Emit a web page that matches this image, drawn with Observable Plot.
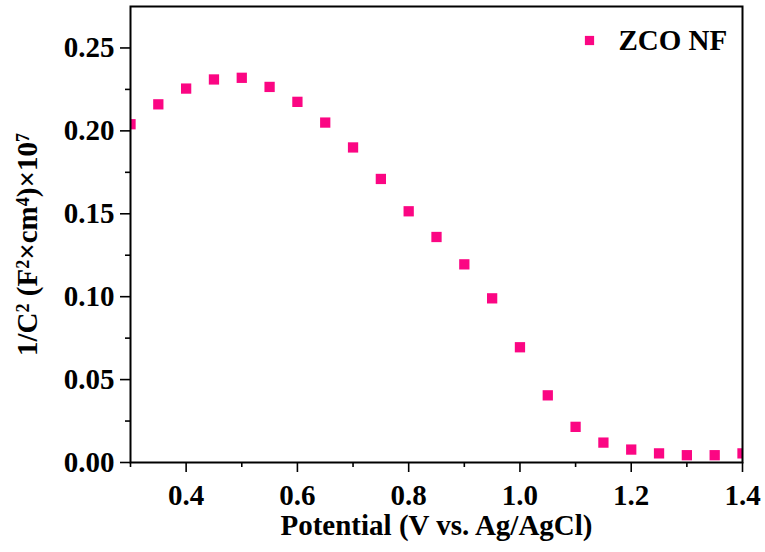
<!DOCTYPE html>
<html>
<head>
<meta charset="utf-8">
<script src="https://cdn.jsdelivr.net/npm/d3@7"></script>
<script src="https://cdn.jsdelivr.net/npm/@observablehq/plot@0.6"></script>
<style>
  html, body { margin: 0; padding: 0; background: #fff; }
  #chart svg { display: block; }
</style>
</head>
<body>
<div id="chart"></div>
<script>
// Mott–Schottky data for the ZCO NF electrode
const potential = [0.30, 0.35, 0.40, 0.45, 0.50, 0.55, 0.60, 0.65, 0.70, 0.75, 0.80, 0.85,
                   0.90, 0.95, 1.00, 1.05, 1.10, 1.15, 1.20, 1.25, 1.30, 1.35, 1.40];
const invC2 = [0.204, 0.216, 0.2255, 0.231, 0.232, 0.2265, 0.2175, 0.205, 0.190, 0.171, 0.1515, 0.136,
               0.1195, 0.099, 0.0695, 0.0405, 0.0215, 0.012, 0.0078, 0.0055, 0.0044, 0.0044, 0.0055];
const seriesName = "ZCO NF";

const xMajor = [0.4, 0.6, 0.8, 1.0, 1.2, 1.4];
const xMinor = [0.3, 0.5, 0.7, 0.9, 1.1, 1.3];
const yMajor = [0.00, 0.05, 0.10, 0.15, 0.20, 0.25];
const yMinor = [0.025, 0.075, 0.125, 0.175, 0.225];

const data = potential.map((v, i) => ({potential: v, value: invC2[i]}));
const pink = "#fb0683";
const serifFont = "Liberation Serif";

const chart = Plot.plot({
  width: 765,
  height: 552,
  marginLeft: 130,
  marginRight: 23,
  marginTop: 6,
  marginBottom: 90,
  style: {background: "#fff", color: "#000"},
  x: {domain: [0.3, 1.4]},
  y: {domain: [0, 0.275]},
  marks: [
    Plot.dot(data, {x: "potential", y: "value", symbol: "square", r: 5.8, fill: pink, stroke: "none", clip: true}),
    Plot.axisX({ticks: xMinor, tickSize: 5, strokeWidth: 1.6, text: null, label: null}),
    Plot.axisX({ticks: xMajor, tickSize: 10, strokeWidth: 1.6, tickPadding: 12, tickFormat: d3.format(".1f"),
                fontSize: 29, fontWeight: "bold", fontFamily: serifFont,
                label: "Potential (V vs. Ag/AgCl)", labelAnchor: "center", labelArrow: "none", labelOffset: 72}),
    Plot.axisY({ticks: yMinor, tickSize: 5, strokeWidth: 1.6, text: null, label: null}),
    Plot.axisY({ticks: yMajor, tickSize: 10, strokeWidth: 1.6, tickPadding: 6, tickFormat: d3.format(".2f"),
                fontSize: 29, fontWeight: "bold", fontFamily: serifFont,
                label: "1/C2 (F2×cm4)×107", labelAnchor: "center", labelArrow: "none", labelOffset: 114}),
    Plot.frame({stroke: "#000", strokeWidth: 2}),
    // legend
    Plot.dot([seriesName], {frameAnchor: "top-right", dx: -153, dy: 34, symbol: "square", r: 5.2, fill: pink}),
    Plot.text([seriesName], {frameAnchor: "top-right", dx: -124, dy: 34, text: d => d, textAnchor: "start",
                             lineAnchor: "middle", fontSize: 29, fontWeight: "bold", fontFamily: serifFont, fill: "#000"})
  ]
});

// Serif bold type everywhere, and superscripts on the y-axis title
const svg = d3.select(chart);
svg.selectAll("[aria-label='x-axis label'] text, [aria-label='y-axis label'] text").attr("font-size", 29);
const yLabel = svg.select("[aria-label='y-axis label'] text");
yLabel.text(null).attr("dx", -10);
const parts = [["1/C", false], ["2", true], [" (F", false], ["2", true], ["×cm", false], ["4", true], [")×10", false], ["7", true]];
parts.forEach(([t, sup]) => {
  const s = yLabel.append("tspan").text(t);
  if (sup) s.attr("font-size", 18).attr("baseline-shift", "45%");
});
[chart, ...chart.querySelectorAll("g, text, tspan")].forEach(el => {
  el.setAttribute("font-family", serifFont);
  el.style.setProperty("font-family", `"${serifFont}", serif`, "important");
  el.style.setProperty("font-weight", "bold", "important");
  el.style.setProperty("font-variant", "normal", "important");
});

document.getElementById("chart").appendChild(chart);
</script>
</body>
</html>
